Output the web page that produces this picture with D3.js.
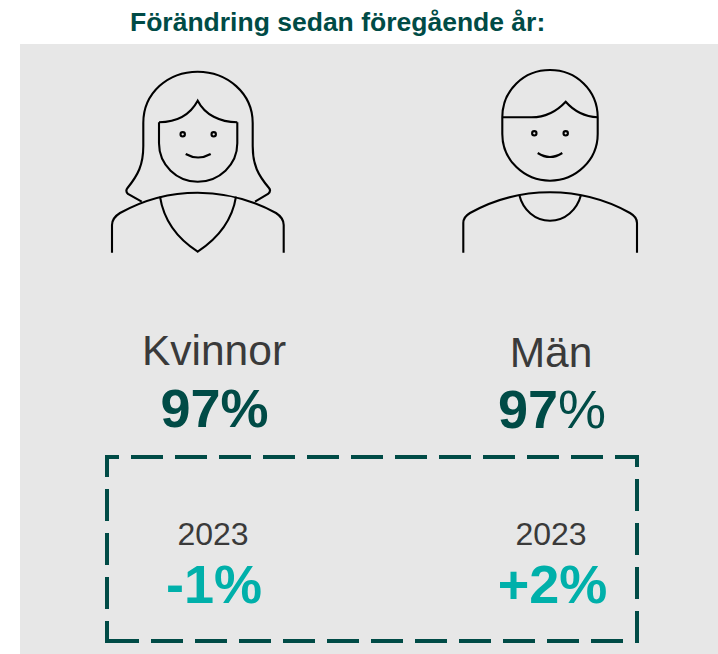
<!DOCTYPE html>
<html>
<head>
<meta charset="utf-8">
<script src="https://cdn.jsdelivr.net/npm/d3@7"></script>
<style>
  html, body { margin: 0; padding: 0; background: #fff; }
  text { font-family: "Liberation Sans", Arial, sans-serif; }
</style>
</head>
<body>
<div id="root"></div>
<script>
const width = 718;
const height = 654;

const title = "Förändring sedan föregående år:";
const groups = ["Kvinnor", "Män"];
const shares = [97, 97];
const changeYears = ["2023", "2023"];
const changes = ["-1%", "+2%"];

const dark = "#004b46";
const teal = "#00b0aa";
const grey = "#3a3a3a";

const svg = d3.select("#root")
    .append("svg")
    .attr("width", width)
    .attr("height", height)
    .style("display", "block");

svg.append("rect")
    .attr("x", 20)
    .attr("y", 44)
    .attr("width", 698)
    .attr("height", 610)
    .attr("fill", "#e7e7e7");

svg.append("text")
    .attr("x", 130)
    .attr("y", 31)
    .attr("font-size", 26.5)
    .attr("font-weight", "bold")
    .attr("fill", dark)
    .text(title);

// icons, hand traced
const womanPaths = [
    "M141.7,201.7 L128,194 Q125,191 127.5,188 C138,175 143.3,165 143.3,146 L143.3,123 C143.3,93 168,71.7 197.7,71.7 C227,71.7 252.7,93 252.7,123 L252.7,146 C252.7,165 258,175 269,188 Q271.5,191 268,194 L255,201.7",
    "M159,122.3 L159,143.3 C159,165 177,181.7 197.7,181.7 C219,181.7 237.3,165 237.3,143.3 L237.3,122.3",
    "M159,122.3 C177,122 190,115 197.7,100.7 C205,115 220,122 237.3,122.3",
    "M185.7,154 Q198,161 210.7,154",
    "M112,252.7 L112,225 Q112,218 120,213 C145,199 170,192.7 197.7,192.7 C225,192.7 250,199 276,213 Q283.7,218 283.7,225 L283.7,252.7",
    "M160,196.7 C164,222 178,239 197.7,251.7 C217,239 232,222 236,196.7"
];
const manPaths = [
    "M502.3,117.3 C502.3,90 524,70 550,70 C576,70 597.7,90 597.7,117.3 L597.7,134 C597.7,160 576,180.7 550,180.7 C524,180.7 502.3,160 502.3,134 Z",
    "M502.3,117.3 L531.7,117.3 C545,117.3 557,111 565.7,101.7 C573,110 584,116.5 597.7,117.3",
    "M537.7,153 Q550,161 562.3,153",
    "M463.3,252.7 L463.3,223 Q463.3,217 470,213 C495,199 522,192.3 550,192.3 C578,192.3 605,199 630,213 Q637,217 637,223 L637,252.7",
    "M519.3,195 C523,210 535,220.7 550,220.7 C565,220.7 577,210 581,195"
];
const eyes = [[182.7, 134.3], [213.7, 134.3], [534.3, 133.3], [565.7, 133.3]];

const icons = svg.append("g")
    .attr("fill", "none")
    .attr("stroke", "#000")
    .attr("stroke-width", 2.1);

icons.selectAll("path")
    .data(womanPaths.concat(manPaths))
    .enter().append("path")
    .attr("d", d => d);

icons.selectAll("circle")
    .data(eyes)
    .enter().append("circle")
    .attr("cx", d => d[0])
    .attr("cy", d => d[1])
    .attr("r", 2.2);

// text columns
const labelX = [214, 551];
const labelY = [365, 367];
const shareX = [214.5, 552];
const shareY = [427, 428];
const yearX = [213, 551];
const changeX = [214, 552.5];
const percentWeight = ["bold", "normal"]; // the right one has a thin % in the original

svg.selectAll(".group")
    .data(groups)
    .enter().append("text")
    .attr("class", "group")
    .attr("x", (d, i) => labelX[i])
    .attr("y", (d, i) => labelY[i])
    .attr("text-anchor", "middle")
    .attr("font-size", 42.5)
    .attr("fill", grey)
    .text(d => d);

const shareText = svg.selectAll(".share")
    .data(shares)
    .enter().append("text")
    .attr("class", "share")
    .attr("x", (d, i) => shareX[i])
    .attr("y", (d, i) => shareY[i])
    .attr("text-anchor", "middle")
    .attr("font-size", 54)
    .attr("fill", dark);

shareText.append("tspan")
    .attr("font-weight", "bold")
    .text(d => d);

shareText.append("tspan")
    .attr("font-weight", (d, i) => percentWeight[i])
    .text("%");

svg.append("path")
    .attr("d", d3.line()([[107, 641], [637, 641], [637, 457], [107, 457]]) + "Z")
    .attr("fill", "none")
    .attr("stroke", dark)
    .attr("stroke-width", 4)
    .attr("stroke-dasharray", "32 12");

svg.selectAll(".year")
    .data(changeYears)
    .enter().append("text")
    .attr("class", "year")
    .attr("x", (d, i) => yearX[i])
    .attr("y", 545)
    .attr("text-anchor", "middle")
    .attr("font-size", 32)
    .attr("fill", grey)
    .text(d => d);

svg.selectAll(".change")
    .data(changes)
    .enter().append("text")
    .attr("class", "change")
    .attr("x", (d, i) => changeX[i])
    .attr("y", 603)
    .attr("text-anchor", "middle")
    .attr("font-size", 54)
    .attr("font-weight", "bold")
    .attr("fill", teal)
    .text(d => d);
</script>
</body>
</html>
